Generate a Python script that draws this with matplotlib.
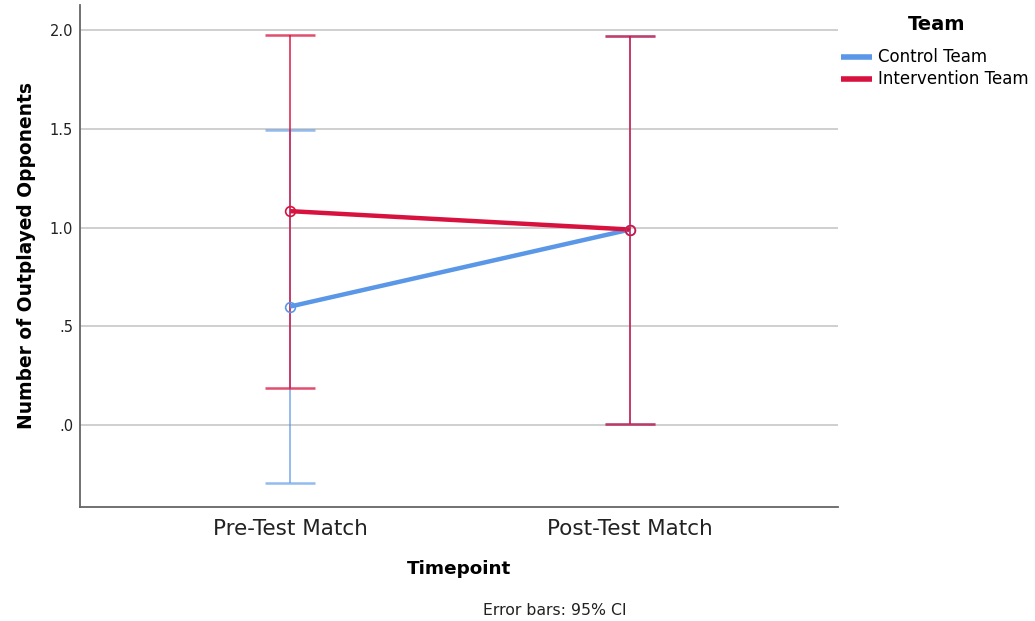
import matplotlib
matplotlib.use('Agg')
import matplotlib.pyplot as plt
import numpy as np

timepoints = ['Pre-Test Match', 'Post-Test Match']
teams = ['Control Team', 'Intervention Team']
control_mean = [0.60, 0.99]
control_lo = [-0.295, 0.005]
control_hi = [1.495, 1.97]
interv_mean = [1.083, 0.99]
interv_lo = [0.19, 0.005]
interv_hi = [1.976, 1.97]

C_BLUE = '#5A97E6'
C_RED = '#D7123F'

fig = plt.figure(figsize=(10.35, 6.21), dpi=100)
fig.patch.set_facecolor('white')
ax = fig.add_axes([0.0773, 0.1836, 0.7324, 0.8084])

x = np.arange(len(timepoints))
series = [
    (control_mean, control_lo, control_hi, C_BLUE, 0.65),
    (interv_mean, interv_lo, interv_hi, C_RED, 0.75),
]

# error bars first, then the mean lines over them
for mean, lo, hi, col, a in series:
    mean = np.array(mean)
    yerr = np.vstack([mean - np.array(lo), np.array(hi) - mean])
    ax.errorbar(x, mean, yerr=yerr, fmt='none', ecolor=col, alpha=a,
                elinewidth=1.4, capsize=18, capthick=1.8, zorder=3)

for (mean, lo, hi, col, a), name in zip(series, teams):
    ax.plot(x, mean, color=col, lw=3.2, zorder=4, label=name,
            solid_capstyle='butt')
    ax.plot(x, mean, 'o', ms=7, mfc='none', mec=col, mew=1.2, zorder=5)

ax.set_xlim(-0.618, 1.612)
ax.set_ylim(-0.415, 2.127)
ax.set_xticks(x)
ax.set_xticklabels(timepoints, fontsize=15.5)
ax.set_yticks([0, 0.5, 1.0, 1.5, 2.0])
ax.set_yticklabels(['.0', '.5', '1.0', '1.5', '2.0'], fontsize=10.5)
ax.tick_params(axis='both', length=0, colors='#222222')
ax.tick_params(axis='y', pad=5)
ax.tick_params(axis='x', pad=9)
ax.yaxis.grid(True, color='#cfcfcf', lw=1.4)
ax.set_axisbelow(True)

for s in ['top', 'right']:
    ax.spines[s].set_visible(False)
for s in ['left', 'bottom']:
    ax.spines[s].set_color('#666666')
    ax.spines[s].set_linewidth(1.3)

ax.set_ylabel('Number of Outplayed Opponents', fontsize=13.4, weight='bold',
              labelpad=10)
ax.set_xlabel('Timepoint', fontsize=13.2, weight='bold', labelpad=15)

fig.text(0.536, 0.0177, 'Error bars: 95% CI', fontsize=11.3, ha='center',
         va='center', color='#222222')

# legend title placed separately to get the SPSS-like gap
fig.text(937 / 1035, 1 - 24 / 621, 'Team', fontsize=14, weight='bold',
         ha='center', va='center')
leg = ax.legend(loc='upper left', bbox_to_anchor=(838 / 1035, 1 - 45 / 621),
                bbox_transform=fig.transFigure, frameon=False,
                fontsize=12, handlelength=1.85, handletextpad=0.35,
                labelspacing=0.25, borderaxespad=0, borderpad=0.2)
for h in leg.get_lines():
    h.set_linewidth(4)

fig.savefig('out.png', dpi=100, facecolor='white')
